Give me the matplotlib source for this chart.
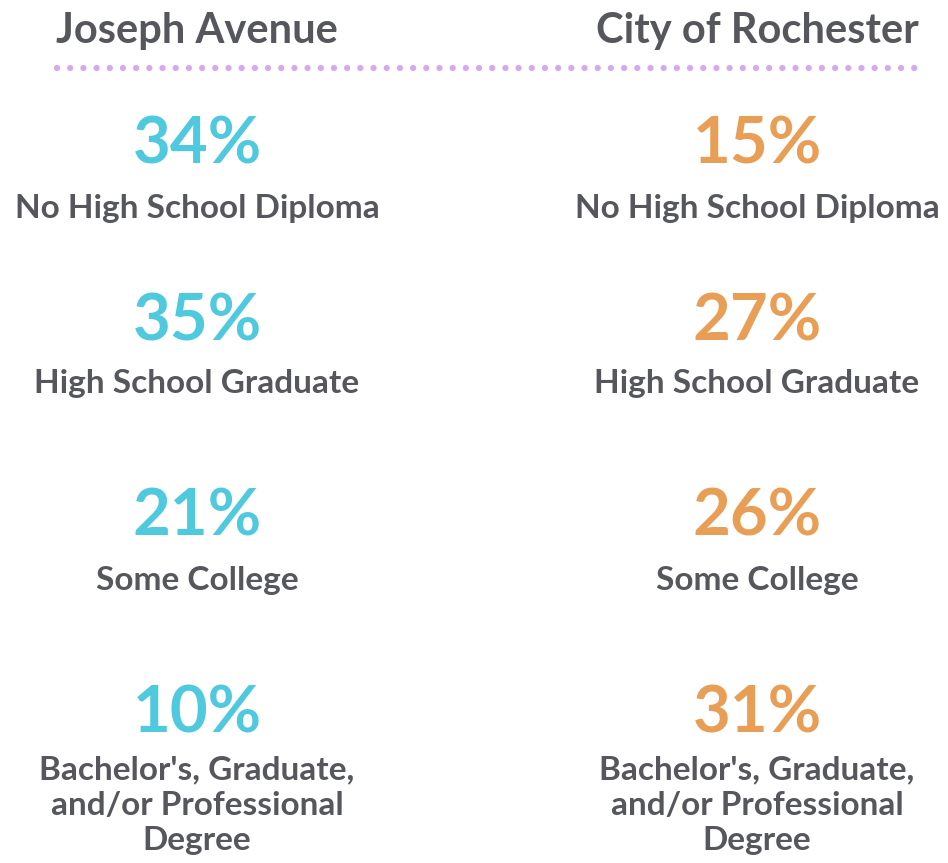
import matplotlib.pyplot as plt

# education attainment, share of adults 25+
places = ['Joseph Avenue', 'City of Rochester']
levels = ['No High School Diploma', 'High School Graduate', 'Some College',
          "Bachelor's, Graduate,\nand/or Professional\nDegree"]
joseph = [34, 35, 21, 10]
rochester = [15, 27, 26, 31]
colors = ['#4EC9DE', '#E89F55']

W, H = 948, 863
fig = plt.figure(figsize=(W / 100, H / 100), dpi=100)
ax = fig.add_axes([0, 0, 1, 1])
ax.set_xlim(0, W)
ax.set_ylim(H, 0)
ax.axis('off')

font = 'Lato'
grey = '#56575D'
col_x = [197, 757]
pct_y = [145, 322, 517, 714]
lab_y = [208, 383, 580, 805]

# headers and dotted rule
for cx, name in zip(col_x, places):
    ax.text(cx, 31, name, ha='center', va='center', fontsize=30,
            fontweight='bold', color=grey, family=font)
ax.plot([57, 920], [68, 68], color='#D6A8F2', linewidth=4.5,
        linestyle=(0, (0.01, 2.1)), dash_capstyle='round')

for cx, vals, c in zip(col_x, [joseph, rochester], colors):
    for v, lab, py, ly in zip(vals, levels, pct_y, lab_y):
        ax.text(cx, py, f'{v}%', ha='center', va='center', fontsize=47,
                fontweight='bold', color=c, family=font)
        ax.text(cx, ly, lab, ha='center', va='center',
                fontsize=24, fontweight='bold', color=grey, family=font,
                linespacing=1.27)

fig.savefig('out.png', dpi=100, facecolor='white')
